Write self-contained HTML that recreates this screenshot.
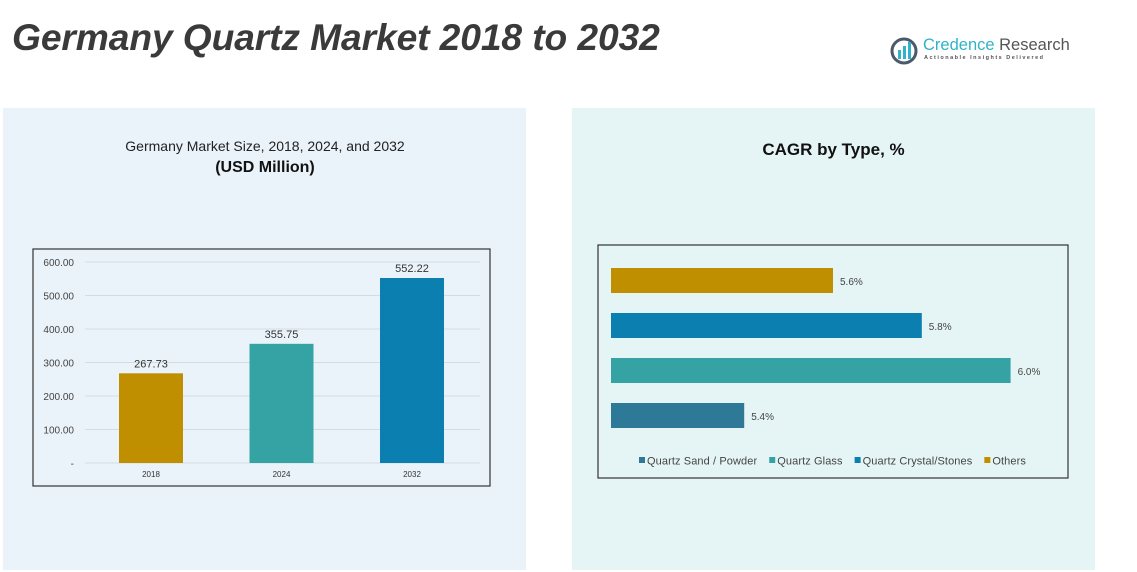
<!DOCTYPE html>
<html><head><meta charset="utf-8"><style>
body{margin:0;width:1137px;height:572px;background:#fff;position:relative;overflow:hidden;font-family:"Liberation Sans",sans-serif}
.abs{position:absolute}
</style></head><body>
<div class="abs" style="left:3px;top:108px;width:523px;height:462px;background:#eaf3f9"></div>
<div class="abs" style="left:572px;top:108px;width:523px;height:462px;background:#e5f5f5"></div>
<div class="abs" style="left:12px;top:16px;font-size:37.2px;font-weight:bold;font-style:italic;color:#3a3a3a;letter-spacing:-0.1px">Germany Quartz Market 2018 to 2032</div>
<div class="abs" style="left:890px;top:34px;width:180px;height:34px">
<svg width="30" height="30" style="position:absolute;left:0;top:2px"><circle cx="14" cy="15" r="12" fill="none" stroke="#4a5a6a" stroke-width="3"/><rect x="8" y="14" width="3" height="9" fill="#2fb3c9"/><rect x="13" y="10" width="3" height="13" fill="#2fb3c9"/><rect x="18" y="6" width="3" height="17" fill="#2fb3c9"/></svg>
<div class="abs" style="left:33px;top:2px;font-size:16.5px;color:#2fb3c9;white-space:nowrap">Credence <span style="color:#555">Research</span></div>
<div class="abs" style="left:34px;top:21px;font-size:5.5px;letter-spacing:1.5px;color:#555;white-space:nowrap;font-weight:bold">Actionable Insights Delivered</div>
</div>
<div class="abs" style="left:0;width:530px;top:138px;text-align:center;font-size:14px;color:#222">Germany Market Size, 2018, 2024, and 2032</div>
<div class="abs" style="left:0;width:530px;top:159px;text-align:center;font-size:16px;font-weight:bold;color:#111">(USD Million)</div>
<div class="abs" style="left:572px;width:523px;top:140px;text-align:center;font-size:17px;font-weight:bold;color:#111">CAGR by Type, %</div>
<svg class="abs" id="bar" style="left:0;top:0" width="1137" height="572"></svg>
<script>
const years=["2018","2024","2032"];
const sizes=[267.73,355.75,552.22];
const yTicks=[0,100,200,300,400,500,600];
const yTickLabels=["-","100.00","200.00","300.00","400.00","500.00","600.00"];
const types=["Others","Quartz Crystal/Stones","Quartz Glass","Quartz Sand / Powder"];
const cagr=[5.6,5.8,6.0,5.4];
const cagrLabels=["5.6%","5.8%","6.0%","5.4%"];
const legendOrder=["Quartz Sand / Powder","Quartz Glass","Quartz Crystal/Stones","Others"];
const ns="http://www.w3.org/2000/svg";
const svg=document.getElementById('bar');
function mk(t,a,p){const e=document.createElementNS(ns,t);for(const k in a)e.setAttribute(k,a[k]);(p||svg).appendChild(e);return e;}
const barColors=["#bf8f00","#35a3a3","#0a7fb0"];
const typeColors={"Others":"#bf8f00","Quartz Crystal/Stones":"#0a7fb0","Quartz Glass":"#35a3a3","Quartz Sand / Powder":"#2e7898"};
let r=mk('rect',{x:33,y:249,width:457,height:237,fill:'none',stroke:'#333','stroke-width':1.2});

const y0=463,yScale=v=>y0-v*(201/600);
yTicks.forEach((t,i)=>{
 const l=mk('line',{x1:85,x2:480,y1:yScale(t),y2:yScale(t),stroke:'#d4dce2'});
 
 const tx=mk('text',{x:74,y:yScale(t)+4,'text-anchor':'end','font-size':10,fill:'#444'});
 tx.textContent=yTickLabels[i];
 
});
const xc=i=>151+i*130.5;
years.forEach((y,i)=>{
 const b=mk('rect',{x:xc(i)-32,y:yScale(sizes[i]),width:64,height:y0-yScale(sizes[i]),fill:barColors[i]});
 
 const v=mk('text',{x:xc(i),y:yScale(sizes[i])-6,'text-anchor':'middle','font-size':11,fill:'#333'});
 v.textContent=sizes[i].toFixed(2);
 
 const xl=mk('text',{x:xc(i),y:477,'text-anchor':'middle','font-size':8,fill:'#333'});
 xl.textContent=y;
 
});
r=mk('rect',{x:598,y:245,width:470,height:233,fill:'none',stroke:'#333','stroke-width':1.2});

const xS=v=>611+(v-5.1)*444;
types.forEach((t,i)=>{
 const yy=268+i*45;
 const b=mk('rect',{x:611,y:yy,width:xS(cagr[i])-611,height:25,fill:typeColors[t]});
 
 const v=mk('text',{x:xS(cagr[i])+7,y:yy+17,'font-size':10,fill:'#444'});
 v.textContent=cagrLabels[i];
 
});
let lx=639;
legendOrder.forEach(t=>{
 const s=mk('rect',{x:lx,y:457,width:6,height:6,fill:typeColors[t]});
 
 const tx=mk('text',{x:lx+8,y:464.5,'font-size':11,fill:'#444','letter-spacing':0.1});
 tx.textContent=t;
 
 lx+=tx.getComputedTextLength()+20;
});
</script>
</body></html>
